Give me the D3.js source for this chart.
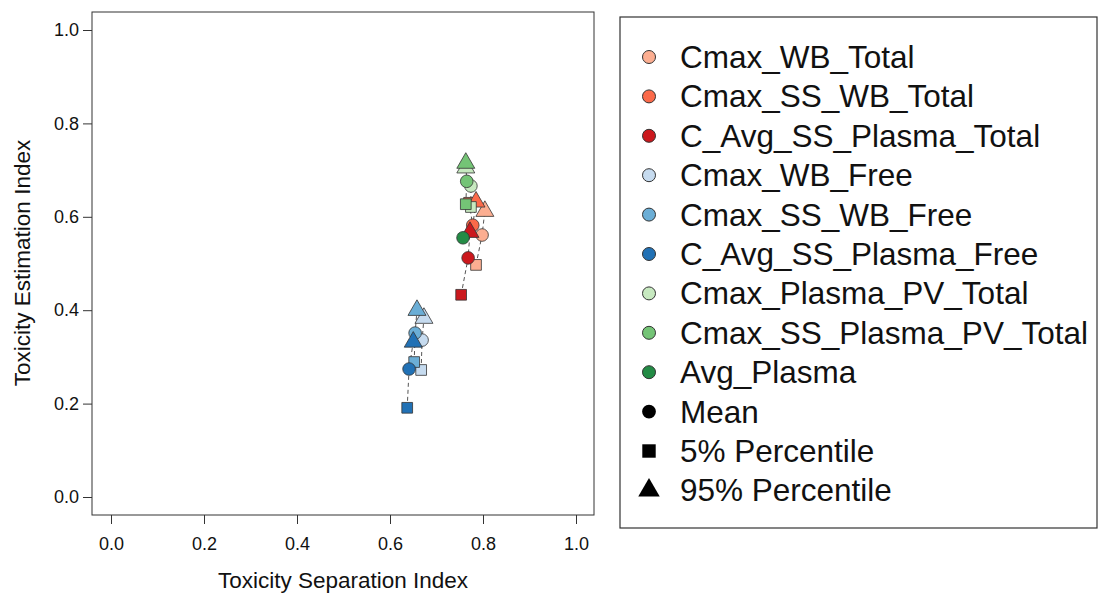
<!DOCTYPE html>
<html><head><meta charset="utf-8">
<script src="https://cdn.jsdelivr.net/npm/d3@7"></script>
<style>body{margin:0;background:#fff;}svg{display:block;font-family:"Liberation Sans",Arial,sans-serif;}</style>
</head><body><svg id="c" width="1099" height="594"></svg>
<script>
const seriesNames = ["Cmax_WB_Total","Cmax_SS_WB_Total","C_Avg_SS_Plasma_Total","Cmax_WB_Free","Cmax_SS_WB_Free","C_Avg_SS_Plasma_Free","Cmax_Plasma_PV_Total","Cmax_SS_Plasma_PV_Total","Avg_Plasma"];
const seriesColors = ["#fcae91","#fb6a4a","#cb181d","#c6dbef","#6baed6","#2171b5","#c7e9c0","#74c476","#238b45"];
// [x, y] for 5% percentile, mean, 95% percentile (null = not visible)
const p5   = [[0.785,0.497],[0.770,0.630],[0.753,0.433],[0.667,0.272],[0.652,0.289],[0.637,0.191],[0.774,0.621],[0.763,0.627],null];
const mean = [[0.798,0.561],[0.778,0.582],[0.768,0.512],[0.669,0.336],[0.654,0.351],[0.641,0.274],[0.774,0.666],[0.765,0.676],[0.757,0.555]];
const p95  = [[0.804,0.612],[0.785,0.632],[0.772,0.567],[0.673,0.383],[0.658,0.400],[0.650,0.332],[0.763,0.705],[0.763,0.715],null];
const xTicks = [0,0.2,0.4,0.6,0.8,1.0];
const yTicks = [0,0.2,0.4,0.6,0.8,1.0];
const shapeLabels = ["Mean","5% Percentile","95% Percentile"];

const svg = d3.select("#c");
const x = d3.scaleLinear().domain([0,1]).range([111,576]);
const y = d3.scaleLinear().domain([0,1]).range([497,30]);

svg.append("rect").attr("x",92).attr("y",12).attr("width",502).attr("height",503)
  .attr("fill","none").attr("stroke","#333").attr("stroke-width",1);

const fmt = d3.format(".1f");
const xAxis = svg.append("g").attr("transform","translate(0,515)")
  .call(d3.axisBottom(x).tickValues(xTicks).tickFormat(fmt).tickSize(9).tickPadding(13));
const yAxis = svg.append("g").attr("transform","translate(92,0)")
  .call(d3.axisLeft(y).tickValues(yTicks).tickFormat(fmt).tickSize(9).tickPadding(4));
[xAxis,yAxis].forEach(a=>{
  a.select(".domain").remove();
  a.selectAll("line").attr("stroke","#333");
  a.selectAll("text").attr("font-size",18).attr("fill","#111").attr("font-family","Liberation Sans, Arial");
});

svg.append("text").attr("x",343).attr("y",588).attr("text-anchor","middle")
  .attr("font-size",22.5).attr("fill","#111").text("Toxicity Separation Index");
svg.append("text").attr("transform","translate(30,263) rotate(-90)").attr("text-anchor","middle")
  .attr("font-size",22.5).attr("fill","#111").text("Toxicity Estimation Index");

const line = d3.line().x(d=>x(d[0])).y(d=>y(d[1]));
seriesNames.forEach((n,i)=>{
  const pts=[p5[i],mean[i],p95[i]].filter(d=>d);
  if(pts.length>1) svg.append("path").attr("d",line(pts)).attr("fill","none")
    .attr("stroke","#555").attr("stroke-width",1).attr("stroke-dasharray","4,3");
});

const sym = {
  circle: d3.symbol().type(d3.symbolCircle).size(125),
  square: d3.symbol().type(d3.symbolSquare).size(115),
  tri: d3.symbol().type(d3.symbolTriangle).size(140)
};
function drawPt(d,shape,color){
  if(!d) return;
  svg.append("path").attr("d",sym[shape]()).attr("transform",`translate(${x(d[0])},${y(d[1])})`)
    .attr("fill",color).attr("stroke","#333").attr("stroke-width",0.8);
}
seriesNames.forEach((n,i)=>{
  drawPt(p5[i],"square",seriesColors[i]);
  drawPt(mean[i],"circle",seriesColors[i]);
  drawPt(p95[i],"tri",seriesColors[i]);
});

svg.append("rect").attr("x",620).attr("y",17).attr("width",477).attr("height",511)
  .attr("fill","none").attr("stroke","#333").attr("stroke-width",1.2);
const rowY = i => 57 + i*39.4;
seriesNames.forEach((n,i)=>{
  svg.append("circle").attr("cx",649).attr("cy",rowY(i)).attr("r",6.5)
    .attr("fill",seriesColors[i]).attr("stroke","#333").attr("stroke-width",1);
  svg.append("text").attr("x",680).attr("y",rowY(i)+11).attr("font-size",31.5).attr("fill","#111").text(n);
});
const legSym=[d3.symbol().type(d3.symbolCircle).size(150),d3.symbol().type(d3.symbolSquare).size(180),d3.symbol().type(d3.symbolTriangle).size(200)];
shapeLabels.forEach((n,j)=>{
  const i=9+j;
  svg.append("path").attr("d",legSym[j]()).attr("transform",`translate(649,${rowY(i)})`).attr("fill","#000");
  svg.append("text").attr("x",680).attr("y",rowY(i)+11).attr("font-size",31.5).attr("fill","#111").text(n);
});
</script></body></html>
